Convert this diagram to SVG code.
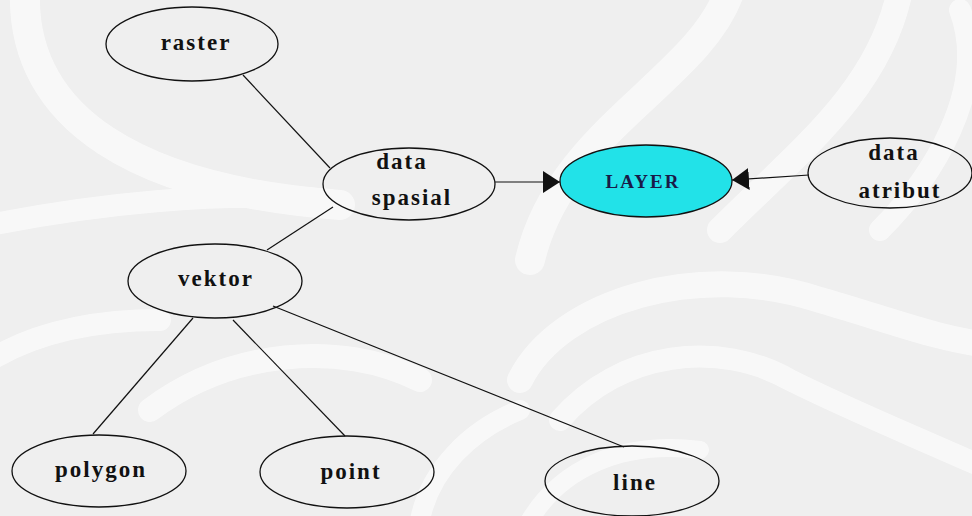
<svg xmlns="http://www.w3.org/2000/svg" width="972" height="516" viewBox="0 0 972 516">
  <style>
    .node ellipse { fill: none; stroke: #111; stroke-width: 1.3; }
    .node.layer ellipse { fill: #22e2e8; }
    .node text { font-family: "Liberation Serif", "Times New Roman", serif; font-weight: bold; font-size: 23px; letter-spacing: 2px; fill: #111; text-anchor: middle; }
    .node.layer text { font-size: 19px; letter-spacing: 2px; fill: #1a1a48; }
    .edges line { stroke: #111; stroke-width: 1.2; }
    .swoosh { fill: none; stroke: #ffffff; stroke-linecap: round; }
  </style>
  <defs>
    <marker id="arrow" markerUnits="userSpaceOnUse" markerWidth="18" markerHeight="22" refX="17" refY="11" orient="auto">
      <path d="M0,0 L17,11 L0,22 Z" fill="#111"/>
    </marker>
  </defs>

  <!-- background with soft white bands -->
  <rect x="0" y="0" width="972" height="516" fill="#efefef"/>
  <g class="swoosh" opacity="0.6">
    <path d="M25,-10 C20,120 140,190 340,205" stroke-width="30"/>
    <path d="M-10,225 C90,205 220,190 330,200" stroke-width="22"/>
    <path d="M730,-10 C700,80 560,130 530,260" stroke-width="30"/>
    <path d="M900,-10 C880,90 800,150 720,230" stroke-width="26"/>
    <path d="M960,10 C990,90 930,180 880,230" stroke-width="22"/>
    <path d="M520,380 C560,300 700,260 820,300 C890,320 940,340 990,345" stroke-width="26"/>
    <path d="M560,420 C620,350 720,340 790,380 C850,410 900,430 990,470" stroke-width="22"/>
    <path d="M530,520 C560,470 620,440 700,450" stroke-width="18"/>
    <path d="M150,410 C230,350 340,340 420,380" stroke-width="24"/>
    <path d="M-10,360 C40,330 100,320 160,320" stroke-width="22"/>
    <path d="M420,520 C430,470 470,430 520,410" stroke-width="20"/>
  </g>

  <!-- connectors -->
  <g class="edges">
    <line x1="243" y1="75" x2="330" y2="168"/>
    <line x1="333" y1="207" x2="267" y2="250"/>
    <line x1="193" y1="318" x2="93" y2="434"/>
    <line x1="233" y1="320" x2="345" y2="436"/>
    <line x1="273" y1="306" x2="624" y2="447"/>
    <line x1="495" y1="182" x2="560" y2="182" marker-end="url(#arrow)"/>
    <line x1="809" y1="175" x2="732" y2="180" marker-end="url(#arrow)"/>
  </g>

  <!-- nodes -->
  <g id="raster" class="node">
    <ellipse cx="192" cy="44" rx="86" ry="37"/>
    <text x="196" y="50">raster</text>
  </g>
  <g id="data-spasial" class="node">
    <ellipse cx="409" cy="184" rx="86" ry="36"/>
    <text x="402" y="169">data</text>
    <text x="412" y="205">spasial</text>
  </g>
  <g id="layer" class="node layer">
    <ellipse cx="646" cy="181" rx="86" ry="36"/>
    <text x="643" y="188">LAYER</text>
  </g>
  <g id="data-atribut" class="node">
    <ellipse cx="890" cy="173" rx="82" ry="35"/>
    <text x="894" y="160">data</text>
    <text x="900" y="198">atribut</text>
  </g>
  <g id="vektor" class="node">
    <ellipse cx="215" cy="281" rx="87" ry="37"/>
    <text x="216" y="286">vektor</text>
  </g>
  <g id="polygon" class="node">
    <ellipse cx="99" cy="471" rx="87" ry="36"/>
    <text x="101" y="477">polygon</text>
  </g>
  <g id="point" class="node">
    <ellipse cx="347" cy="472" rx="87" ry="36"/>
    <text x="351" y="479">point</text>
  </g>
  <g id="line" class="node">
    <ellipse cx="632" cy="481" rx="87" ry="35"/>
    <text x="635" y="490">line</text>
  </g>
</svg>
